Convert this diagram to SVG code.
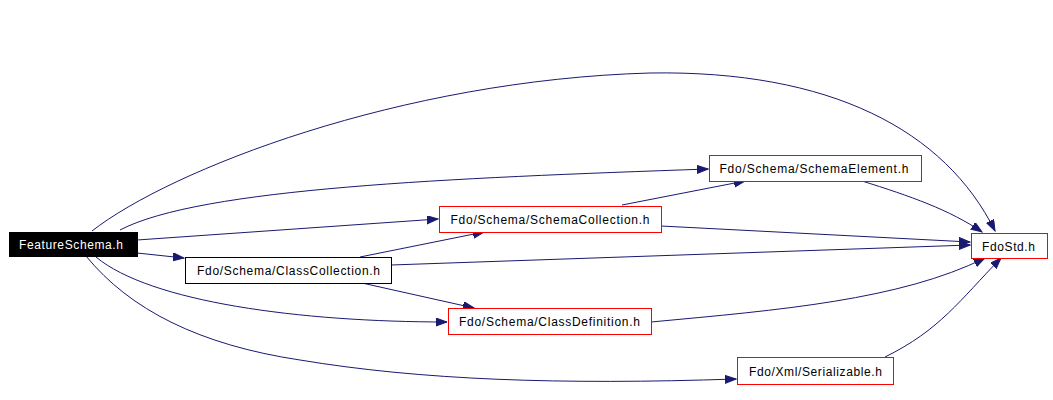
<svg xmlns="http://www.w3.org/2000/svg" width="1053" height="400" viewBox="0 0 1053 400">
<style>
.n rect{fill:#fff;stroke:#ff0000;stroke-width:1}
.n text{font-family:"Liberation Sans",Arial,sans-serif;font-size:12px;fill:#000;text-anchor:middle}
#n0 rect{fill:#000;stroke:#000}
#n0 text{fill:#fff}
#n1 rect{stroke:#000}
.e path{fill:none;stroke:#191970;stroke-width:1}
</style>
<defs>
<marker id="a" markerUnits="userSpaceOnUse" markerWidth="12" markerHeight="9" refX="11" refY="4" orient="auto">
<path d="M0,0 L11,4 L0,8 z" fill="#191970" stroke="#191970"/>
</marker>
</defs>
<rect width="1053" height="400" fill="#fff"/>
<g class="e">
<path d="M92,231 C170,170 400,80 650,73 C830,70 945,130 995,231" marker-end="url(#a)"/>
<path d="M120,230 C200,188 450,178 708,169" marker-end="url(#a)"/>
<path d="M137,240 L438,219" marker-end="url(#a)"/>
<path d="M137,253 L184,258" marker-end="url(#a)"/>
<path d="M96,257 C150,302 300,322 447,322" marker-end="url(#a)"/>
<path d="M86,256 C130,310 200,345 300,360 C420,380 560,385 736,379" marker-end="url(#a)"/>
<path d="M622,205 L745,181" marker-end="url(#a)"/>
<path d="M661,226 L970,242" marker-end="url(#a)"/>
<path d="M360,257 L484,232" marker-end="url(#a)"/>
<path d="M391,265 L970,245" marker-end="url(#a)"/>
<path d="M362,283 L474,308" marker-end="url(#a)"/>
<path d="M862,181 C910,196 950,210 982,232" marker-end="url(#a)"/>
<path d="M651,322 C780,310 900,300 985,258" marker-end="url(#a)"/>
<path d="M885,357 C940,330 960,300 1001,258" marker-end="url(#a)"/>
</g>
<g id="n0" class="n"><rect x="9.5" y="232.5" width="128" height="24"/><text x="71" y="249" textLength="104">FeatureSchema.h</text></g>
<g id="n1" class="n"><rect x="185.5" y="257.5" width="206" height="26"/><text x="288.5" y="275" textLength="183">Fdo/Schema/ClassCollection.h</text></g>
<g id="n2" class="n"><rect x="439.5" y="206.5" width="222" height="26"/><text x="550" y="224" textLength="199">Fdo/Schema/SchemaCollection.h</text></g>
<g id="n3" class="n"><rect x="709.5" y="155.5" width="212" height="26"/><text x="814" y="173" textLength="189">Fdo/Schema/SchemaElement.h</text></g>
<g id="n4" class="n"><rect x="971.5" y="233.5" width="76" height="25"/><text x="1008.5" y="250.5" textLength="53">FdoStd.h</text></g>
<g id="n5" class="n"><rect x="448.5" y="308.5" width="203" height="26"/><text x="549.5" y="326" textLength="181">Fdo/Schema/ClassDefinition.h</text></g>
<g id="n6" class="n"><rect x="737.5" y="357.5" width="156" height="27"/><text x="815.5" y="375.5" textLength="133">Fdo/Xml/Serializable.h</text></g>
</svg>
